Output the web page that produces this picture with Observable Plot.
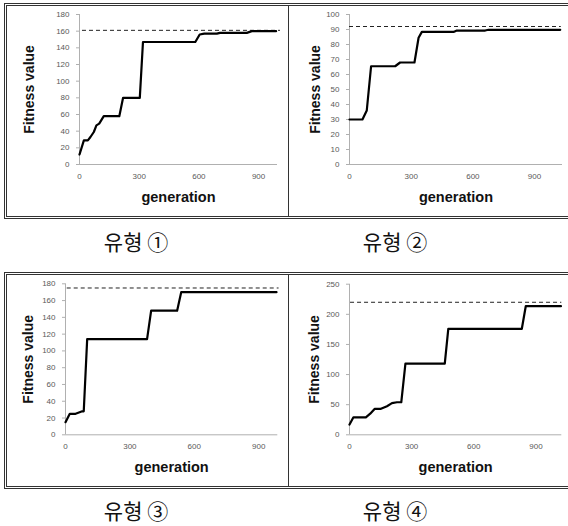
<!DOCTYPE html>
<html>
<head>
<meta charset="utf-8">
<script src="https://cdn.jsdelivr.net/npm/d3@7"></script>
<script src="https://cdn.jsdelivr.net/npm/@observablehq/plot@0.6"></script>
<style>
  html, body { margin: 0; padding: 0; background: #fff; }
  body { width: 568px; height: 526px; position: relative; overflow: hidden; font-family: "Liberation Sans", Arial, sans-serif; }
  .box { position: absolute; border: 3px double #333; box-sizing: border-box; }
  .divider { position: absolute; width: 1px; background: #333; }
  .cell { position: absolute; }
  .cell svg { overflow: visible; }
  .cap { position: absolute; font-family: "Noto Sans CJK KR", sans-serif; font-size: 21px; color: #111; transform: translate(-50%, -50%); white-space: nowrap; }
</style>
</head>
<body>
<div class="box" style="left:4px; top:3px; width:580px; height:216px;"></div>
<div class="divider" style="left:288px; top:5px; height:211px;"></div>
<div class="box" style="left:4px; top:272px; width:580px; height:217px;"></div>
<div class="divider" style="left:288px; top:275px; height:211px;"></div>
<div id="p1" class="cell" style="left:7px; top:5px;"></div>
<div id="p2" class="cell" style="left:290px; top:5px;"></div>
<div id="p3" class="cell" style="left:7px; top:276px;"></div>
<div id="p4" class="cell" style="left:290px; top:276px;"></div>
<div class="cap" style="left:136px; top:241px;">유형 ①</div>
<div class="cap" style="left:395px; top:241px;">유형 ②</div>
<div class="cap" style="left:136px; top:510px;">유형 ③</div>
<div class="cap" style="left:395px; top:510px;">유형 ④</div>
<script>
// ---- data ----
const xLabel = "generation";
const yLabel = "Fitness value";
const xTicks = [0, 300, 600, 900];

const gen1 = [0, 22, 42, 55, 72, 85, 99, 122, 200, 219, 303, 319, 582, 604, 627, 690, 706, 841, 866, 988];
const fit1 = [12, 29, 29, 33, 39, 47, 49, 58, 58, 80, 80, 147, 147, 156, 157, 157, 158, 158, 160, 160];
const target1 = 161;
const yTicks1 = [0, 20, 40, 60, 80, 100, 120, 140, 160, 180];

const gen2 = [0, 63, 84, 105, 222, 246, 316, 336, 352, 506, 522, 660, 676, 1025];
const fit2 = [30, 30, 36, 65.5, 65.5, 68, 68, 84.5, 88.4, 88.4, 89.3, 89.3, 89.8, 89.8];
const target2 = 92;
const yTicks2 = [0, 10, 20, 30, 40, 50, 60, 70, 80, 90, 100];

const gen3 = [0, 20, 47, 78, 85, 101, 380, 399, 520, 539, 983];
const fit3 = [15, 25, 25, 28, 28, 114, 114, 148, 148, 170, 170];
const target3 = 175;
const yTicks3 = [0, 20, 40, 60, 80, 100, 120, 140, 160, 180];

const gen4 = [0, 19, 79, 100, 121, 149, 181, 205, 229, 250, 270, 460, 477, 832, 851, 1021];
const fit4 = [17, 29, 29, 35, 43, 43, 47.5, 52.5, 54, 54, 118, 118, 176, 176, 213.5, 213.5];
const target4 = 220;
const yTicks4 = [0, 50, 100, 150, 200, 250];

function panel(el, gens, fits, target, yTicks, cfg) {
  const data = gens.map((g, i) => ({g, f: fits[i]}));
  const yMax = yTicks[yTicks.length - 1];
  const chart = Plot.plot({
    width: cfg.width, height: cfg.height,
    marginLeft: cfg.ml, marginRight: cfg.mr, marginTop: cfg.mt, marginBottom: cfg.mb,
    style: {fontFamily: "'Liberation Sans', Arial, sans-serif", fontSize: "8px", color: "#595959", background: "transparent", overflow: "visible"},
    x: {domain: [0, cfg.xMax], ticks: xTicks},
    y: {domain: [0, yMax], ticks: yTicks},
    marks: [
      Plot.ruleX([0], {stroke: "#b0b0b0", strokeWidth: 1}),
      Plot.ruleY([0], {stroke: "#b0b0b0", strokeWidth: 1}),
      Plot.axisY({ticks: yTicks, tickSize: 3, tickPadding: 7, stroke: "#b0b0b0", fill: "#595959", label: null, tickFormat: d => String(d)}),
      Plot.axisX({ticks: xTicks, tickSize: 0, tickPadding: 9, fill: "#595959", label: null, tickFormat: d => String(d)}),
      Plot.ruleY([target], {x1: cfg.dashStart, x2: cfg.dashEnd, stroke: "#222", strokeWidth: 1, strokeDasharray: "4,3"}),
      Plot.line(data, {x: "g", y: "f", stroke: "#000", strokeWidth: 2.2, strokeLinejoin: "round"}),
      Plot.text([xLabel], {text: d => d, frameAnchor: "bottom", lineAnchor: "middle", dy: 33, fontSize: 14.5, fontWeight: "bold", fill: "#111", fontFamily: "'Liberation Sans', Arial, sans-serif"}),
      Plot.text([yLabel], {text: d => d, frameAnchor: "left", textAnchor: "middle", lineAnchor: "middle", rotate: -90, dx: cfg.ydx, fontSize: 14, fontWeight: "bold", fill: "#111", fontFamily: "'Liberation Sans', Arial, sans-serif"})
    ]
  });
  document.getElementById(el).appendChild(chart);
}

panel("p1", gen1, fit1, target1, yTicks1, {width: 281, height: 210, ml: 72, mr: 11, mt: 9, mb: 51, xMax: 995, ydx: -50, dashStart: 15, dashEnd: 1010});
panel("p2", gen2, fit2, target2, yTicks2, {width: 278, height: 210, ml: 59, mr: 6, mt: 9, mb: 51, xMax: 1036, ydx: -34, dashStart: 0, dashEnd: 1030});
panel("p3", gen3, fit3, target3, yTicks3, {width: 281, height: 209, ml: 58, mr: 10.7, mt: 7.3, mb: 50.7, xMax: 989, ydx: -37, dashStart: 8, dashEnd: 995});
panel("p4", gen4, fit4, target4, yTicks4, {width: 278, height: 209, ml: 59, mr: 6.7, mt: 7.7, mb: 50.7, xMax: 1025, ydx: -35, dashStart: 5, dashEnd: 1025});
</script>
</body>
</html>
